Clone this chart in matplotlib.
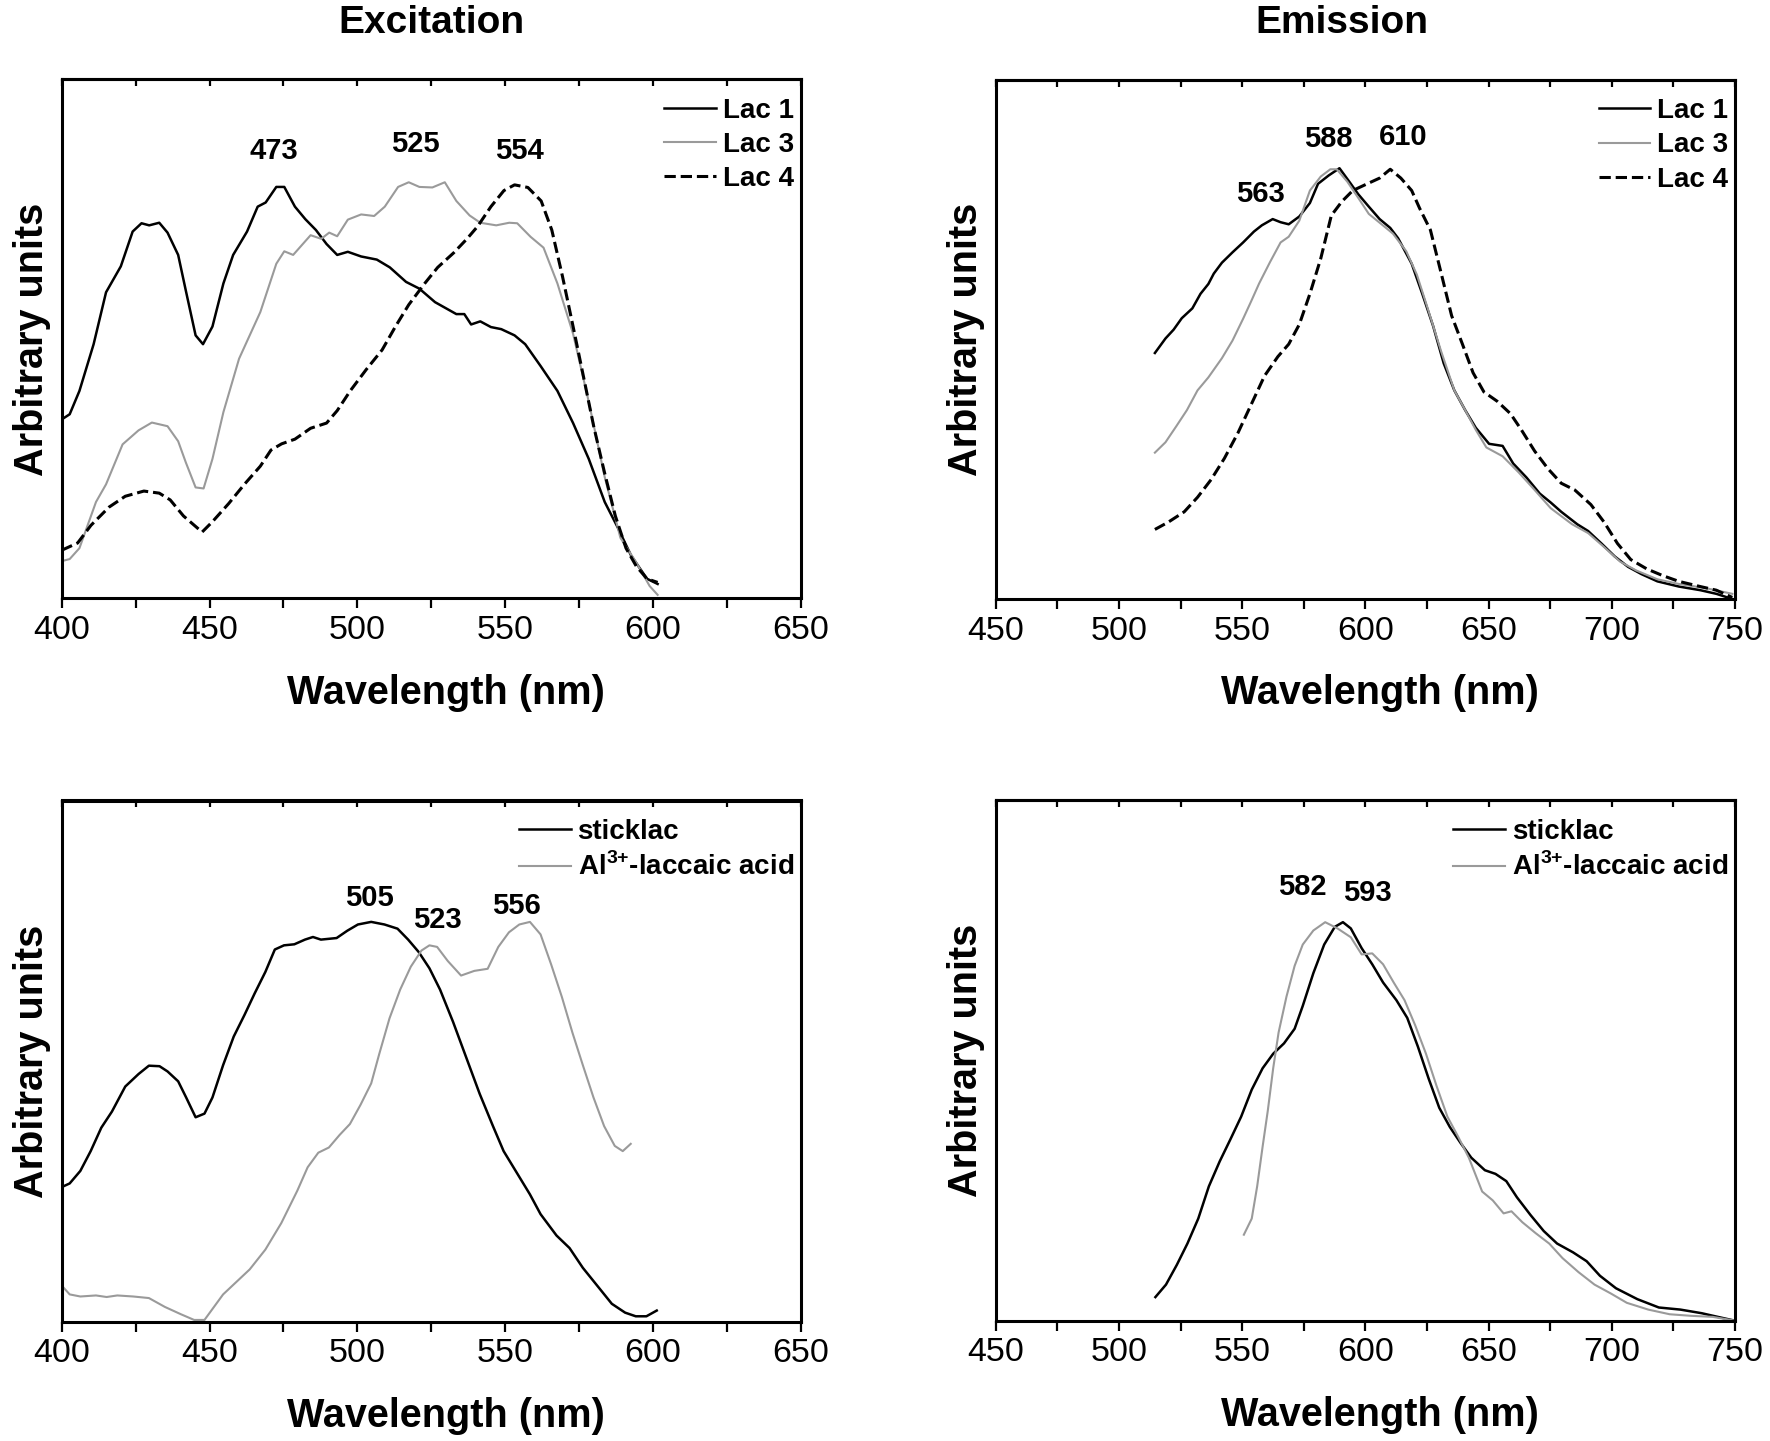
import matplotlib
matplotlib.use('Agg')
import matplotlib.pyplot as plt

plt.rcParams['font.family'] = ['Liberation Sans', 'DejaVu Sans']
plt.rcParams['mathtext.fontset'] = 'custom'
plt.rcParams['mathtext.rm'] = 'Liberation Sans:bold'
plt.rcParams['mathtext.bf'] = 'Liberation Sans:bold'

GRAY = '#9a9a9a'

# ---- excitation, Lac samples (normalised to axis height) ----
exc_lac1_x = [400, 402.7, 406, 410.8, 415, 420, 424, 427, 429.6, 433, 435.8, 439.4, 442, 445.3, 447.8,
              451, 454.7, 458, 462.7, 466.3, 469, 472.6, 475.3, 478.9, 482.4, 486, 489.6, 493.2, 496.8,
              501.3, 506.6, 511, 516.5, 521, 526.3, 533.5, 536.2, 538.5, 541.6, 545.2, 548.7, 553.2,
              556.8, 562, 567.7, 573, 578.3, 583.7, 588, 592.6, 598, 601.6]
exc_lac1_y = [0.345, 0.355, 0.40, 0.49, 0.59, 0.64, 0.707, 0.723, 0.719, 0.724, 0.705, 0.662, 0.593, 0.507, 0.49,
              0.524, 0.607, 0.662, 0.707, 0.755, 0.763, 0.793, 0.793, 0.755, 0.731, 0.71, 0.683, 0.662, 0.668,
              0.659, 0.653, 0.638, 0.61, 0.597, 0.571, 0.548, 0.548, 0.528, 0.534, 0.523, 0.519, 0.507,
              0.49, 0.448, 0.40, 0.338, 0.269, 0.186, 0.138, 0.083, 0.038, 0.028]

exc_lac3_x = [400, 402.7, 406, 411.6, 415, 420.6, 426, 430.5, 435.8, 439.4, 442, 445.3, 448, 451, 454.7,
              460, 467.2, 472.6, 475.3, 478.3, 484.2, 487.8, 490.5, 493.2, 496.8, 501.3, 505.7, 509.3,
              513.8, 517.4, 521, 525.4, 529.6, 533.5, 538, 541.6, 547, 551.4, 554.1, 558.6, 563, 567.7,
              573, 578.3, 583.7, 589, 594.4, 598.9, 601.6]
exc_lac3_y = [0.072, 0.076, 0.097, 0.186, 0.22, 0.297, 0.324, 0.339, 0.332, 0.303, 0.262, 0.214, 0.212, 0.269, 0.359,
              0.462, 0.552, 0.645, 0.669, 0.662, 0.70, 0.693, 0.705, 0.698, 0.73, 0.74, 0.737, 0.755,
              0.793, 0.802, 0.793, 0.792, 0.802, 0.766, 0.738, 0.724, 0.719, 0.724, 0.723, 0.697, 0.676, 0.607,
              0.51, 0.379, 0.234, 0.117, 0.069, 0.024, 0.007]

exc_lac4_x = [400, 405.4, 409.9, 416, 421.5, 427.8, 433, 436.7, 441.2, 447.5, 451, 456.5, 461.8, 467.2,
              470.8, 474.4, 478.9, 484.2, 489.6, 493.2, 497.6, 503, 508.4, 512.9, 517.4, 522.8, 527.2,
              532.6, 537.1, 540.7, 545.2, 549.6, 553.2, 557.7, 562.2, 565.8, 569.4, 573, 576.5, 580,
              583.7, 587.3, 590.9, 594.4, 598, 601.6]
exc_lac4_y = [0.093, 0.107, 0.141, 0.176, 0.197, 0.207, 0.203, 0.19, 0.159, 0.128, 0.148, 0.183, 0.22, 0.255,
              0.286, 0.298, 0.307, 0.328, 0.338, 0.362, 0.40, 0.441, 0.479, 0.524, 0.566, 0.607, 0.638,
              0.666, 0.693, 0.717, 0.755, 0.786, 0.797, 0.792, 0.766, 0.71, 0.621, 0.524, 0.428, 0.331,
              0.241, 0.159, 0.097, 0.062, 0.038, 0.031]

# ---- emission, Lac samples ----
em_lac1_x = [514.6, 518.9, 522.2, 525.5, 529.8, 533.1, 536.3, 538.5, 541.8, 546.1, 550.4, 554.8, 558,
             562.4, 565.6, 568.9, 573.2, 577.5, 580.8, 585.1, 589.5, 593.8, 597.1, 601.4, 605.8, 610.1,
             613.3, 618.8, 623.1, 627.5, 631.8, 636.1, 640.5, 644.8, 650.2, 655.7, 660, 665.4, 670.8,
             675.2, 679.5, 686, 690.4, 695.8, 701.2, 706.6, 712, 718.5, 727.2, 735.9, 742.4, 748.9]
em_lac1_y = [0.474, 0.502, 0.519, 0.541, 0.56, 0.588, 0.607, 0.627, 0.648, 0.668, 0.687, 0.708, 0.72,
             0.732, 0.726, 0.722, 0.737, 0.763, 0.80, 0.816, 0.83, 0.802, 0.78, 0.756, 0.732, 0.715,
             0.695, 0.646, 0.588, 0.526, 0.454, 0.402, 0.364, 0.33, 0.299, 0.295, 0.261, 0.234, 0.203,
             0.186, 0.168, 0.144, 0.131, 0.107, 0.082, 0.062, 0.048, 0.034, 0.024, 0.017, 0.01, 0.0]

em_lac3_x = [514.6, 518.9, 523.3, 527.6, 531.9, 536.3, 541.8, 546.1, 550.4, 553.7, 556.9, 561.3, 565.6,
             568.9, 573.2, 577.5, 581.9, 585.8, 588.4, 592.7, 597.1, 601.4, 605.8, 611.2, 616.6, 620.9,
             625.3, 630.7, 636.1, 640.5, 644.8, 649.1, 655.7, 662.2, 668.7, 675.2, 683.9, 690.4, 696.9,
             703.4, 709.9, 718.5, 727.2, 738, 748.9]
em_lac3_y = [0.282, 0.302, 0.333, 0.364, 0.402, 0.427, 0.464, 0.498, 0.54, 0.574, 0.608, 0.649, 0.687,
             0.698, 0.729, 0.787, 0.814, 0.828, 0.828, 0.804, 0.773, 0.742, 0.725, 0.704, 0.67, 0.625,
             0.56, 0.478, 0.402, 0.364, 0.326, 0.292, 0.275, 0.244, 0.21, 0.175, 0.144, 0.127, 0.10,
             0.072, 0.055, 0.038, 0.029, 0.021, 0.01]

em_lac4_x = [514.6, 520, 526.5, 531.9, 537.4, 542.8, 548.3, 553.7, 559.1, 564.5, 568.9, 573.2, 577.5,
             581.9, 586.2, 590.5, 594.9, 600.3, 605.8, 610.1, 614.4, 618.8, 622, 626.4, 630.7, 635,
             639.4, 643.7, 648.1, 653.5, 658.9, 663.3, 668.7, 674.1, 679.5, 685, 691.5, 696.9, 702.3,
             707.7, 714.2, 720.7, 727.2, 735.9, 742.4, 748.9]
em_lac4_y = [0.134, 0.148, 0.168, 0.196, 0.23, 0.271, 0.32, 0.375, 0.43, 0.467, 0.491, 0.529, 0.588,
             0.656, 0.739, 0.766, 0.787, 0.799, 0.811, 0.828, 0.811, 0.787, 0.753, 0.711, 0.629, 0.546,
             0.491, 0.436, 0.399, 0.381, 0.357, 0.326, 0.285, 0.251, 0.223, 0.21, 0.182, 0.148, 0.107,
             0.076, 0.058, 0.045, 0.034, 0.024, 0.017, 0.003]

# ---- excitation, sticklac vs Al3+-laccaic acid ----
exc_stick_x = [400, 402.7, 406.3, 409.8, 413.4, 417, 421.5, 426, 429.5, 433.1, 435.8, 439.4, 442.1, 445.3,
               448.3, 451, 454.6, 458.2, 461.8, 465.3, 468.9, 472.1, 475.2, 478.7, 482.3, 485, 487.7,
               493, 496.6, 500.2, 504.7, 509.2, 513.6, 517.2, 520.8, 524.4, 528, 532.4, 536.9, 541.4,
               545.9, 549.5, 553.9, 558.4, 562, 567.4, 571.8, 576.3, 581.7, 586.1, 590.6, 594.2, 597.8, 601.3]
exc_stick_y = [0.258, 0.265, 0.289, 0.327, 0.372, 0.403, 0.451, 0.475, 0.491, 0.49, 0.48, 0.461, 0.43, 0.392,
               0.399, 0.43, 0.492, 0.547, 0.588, 0.63, 0.671, 0.714, 0.722, 0.724, 0.733, 0.738, 0.733,
               0.736, 0.75, 0.762, 0.767, 0.762, 0.754, 0.733, 0.709, 0.678, 0.637, 0.575, 0.506, 0.437,
               0.375, 0.327, 0.286, 0.244, 0.206, 0.165, 0.141, 0.103, 0.065, 0.034, 0.017, 0.01, 0.01, 0.021]

exc_al_x = [400, 402.7, 406.3, 411.6, 415.2, 418.8, 424.2, 429.5, 434.9, 440.3, 444.8, 448.3, 451.9, 454.6,
            459.1, 463.6, 468.9, 474.3, 479.7, 483.2, 486.8, 490.4, 494, 497.5, 501.1, 504.7, 507.4,
            510.9, 514.5, 518.1, 521.7, 524.4, 527, 530.6, 535.1, 539.6, 544.1, 547.7, 551.3, 554.8,
            558.4, 562, 565.6, 569.2, 572.8, 576.3, 579.9, 583.5, 587.1, 589.8, 592.5]
exc_al_y = [0.069, 0.052, 0.048, 0.05, 0.047, 0.05, 0.048, 0.045, 0.028, 0.014, 0.003, 0.003, 0.031, 0.052,
            0.076, 0.10, 0.138, 0.189, 0.251, 0.296, 0.324, 0.334, 0.358, 0.379, 0.416, 0.457, 0.513,
            0.582, 0.637, 0.681, 0.712, 0.722, 0.719, 0.692, 0.664, 0.673, 0.677, 0.719, 0.747, 0.762,
            0.767, 0.743, 0.685, 0.623, 0.554, 0.492, 0.43, 0.375, 0.337, 0.327, 0.341]

# ---- emission, sticklac vs Al3+-laccaic acid ----
em_stick_x = [514.8, 519.1, 523.5, 527.8, 532.2, 536.5, 540.9, 545.2, 549.6, 553.9, 558.3, 562.6, 567,
              571.3, 574.6, 578.9, 583.3, 587.6, 590.9, 594.1, 598.5, 602.8, 607.2, 612.6, 617, 621.3,
              625.7, 630, 634.3, 638.7, 643, 648.5, 652.8, 657.2, 661.5, 667, 672.4, 677.8, 684.3, 689.8,
              695.2, 701.7, 710.4, 719.1, 727.8, 736.5, 743, 749.6]
em_stick_y = [0.045, 0.069, 0.107, 0.148, 0.196, 0.258, 0.306, 0.348, 0.392, 0.444, 0.485, 0.513, 0.533,
              0.561, 0.605, 0.668, 0.723, 0.757, 0.766, 0.754, 0.716, 0.685, 0.65, 0.616, 0.582, 0.527,
              0.465, 0.409, 0.372, 0.341, 0.313, 0.289, 0.282, 0.268, 0.237, 0.203, 0.172, 0.148, 0.131, 0.114,
              0.086, 0.062, 0.041, 0.025, 0.021, 0.014, 0.007, 0.0]

em_al_x = [550.7, 553.9, 556.1, 558.3, 560.4, 562.6, 564.8, 568, 571.3, 574.6, 578.9, 583.7, 588.7, 594.1,
           598.5, 602.8, 607.2, 611.5, 615.9, 620.2, 624.6, 628.9, 633.3, 637.6, 642, 647.4, 651.7, 656.1,
           659.3, 663.7, 669.1, 674.6, 680, 686.5, 693, 699.6, 706.1, 714.8, 723.5, 732.2, 740.9, 749.6]
em_al_y = [0.165, 0.196, 0.258, 0.334, 0.403, 0.485, 0.554, 0.623, 0.682, 0.723, 0.75, 0.766, 0.754, 0.737,
           0.704, 0.706, 0.685, 0.65, 0.616, 0.568, 0.513, 0.451, 0.392, 0.354, 0.313, 0.248, 0.231, 0.206,
           0.21, 0.189, 0.168, 0.148, 0.12, 0.093, 0.069, 0.052, 0.034, 0.021, 0.012, 0.009, 0.007, 0.0]

# peak labels (wavelength, height)
exc_lac_peaks = [('473', 471.7, 0.862), ('525', 519.7, 0.876), ('554', 555.0, 0.862)]
em_lac_peaks = [('563', 557.4, 0.78), ('588', 585.1, 0.887), ('610', 615.5, 0.89)]
exc_al_peaks = [('505', 504.1, 0.812), ('523', 527.0, 0.771), ('556', 553.9, 0.798)]
em_al_peaks = [('582', 574.6, 0.833), ('593', 600.7, 0.822)]

W, H = 1770, 1441
fig = plt.figure(figsize=(W / 100, H / 100), dpi=100)

ax1 = fig.add_axes([61.7 / W, 1 - 598.5 / H, 739 / W, 519 / H])
ax2 = fig.add_axes([995.7 / W, 1 - 599.0 / H, 739.3 / W, 519 / H])
ax3 = fig.add_axes([61.7 / W, 1 - 1321.5 / H, 739 / W, 521 / H])
ax4 = fig.add_axes([995.7 / W, 1 - 1320.5 / H, 739.3 / W, 520 / H])


def style(ax, xmin, xmax):
    ax.set_xlim(xmin, xmax)
    ax.set_ylim(0, 1)
    ax.set_xticks(range(xmin, xmax + 1, 50))
    ax.set_xticks(range(xmin + 25, xmax, 50), minor=True)
    ax.set_yticks([])
    for s in ax.spines.values():
        s.set_linewidth(2.2)
    ax.tick_params(axis='x', which='both', direction='out', length=7.2, width=1.6,
                   labelsize=24.5, pad=5)
    top = ax.secondary_xaxis('top')
    top.set_xticks(range(xmin, xmax + 1, 50))
    top.set_xticks(range(xmin + 25, xmax, 50), minor=True)
    top.tick_params(axis='x', which='both', direction='in', length=5, width=1.6, labeltop=False)
    top.spines['top'].set_linewidth(2.2)
    ax.set_xlabel('Wavelength (nm)', fontsize=28.5, fontweight='bold')
    ax.xaxis.set_label_coords(0.52, -0.145)
    ax.set_ylabel('Arbitrary units', fontsize=28.5, fontweight='bold', labelpad=8)


def peaks(ax, items):
    for t, x, y in items:
        ax.text(x, y, t, fontsize=21, fontweight='bold', ha='center', va='center')


leg_kw = dict(loc='upper right', bbox_to_anchor=(1.015, 1.0), frameon=False, handlelength=1.85,
              handletextpad=0.25, labelspacing=0.3, borderaxespad=0.25,
              prop={'size': 20, 'weight': 'bold'})

# Excitation - Lac
ax1.plot(exc_lac1_x, exc_lac1_y, color='black', lw=1.8, label='Lac 1')
ax1.plot(exc_lac3_x, exc_lac3_y, color=GRAY, lw=1.5, label='Lac 3')
ax1.plot(exc_lac4_x, exc_lac4_y, color='black', lw=2.2, ls='--', label='Lac 4')
style(ax1, 400, 650)
peaks(ax1, exc_lac_peaks)
ax1.legend(**leg_kw)

# Emission - Lac
ax2.plot(em_lac1_x, em_lac1_y, color='black', lw=1.8, label='Lac 1')
ax2.plot(em_lac3_x, em_lac3_y, color=GRAY, lw=1.5, label='Lac 3')
ax2.plot(em_lac4_x, em_lac4_y, color='black', lw=2.2, ls='--', label='Lac 4')
style(ax2, 450, 750)
peaks(ax2, em_lac_peaks)
ax2.legend(**leg_kw)

al_label = r'Al$^{\mathbf{3{+}}}$-laccaic acid'

# Excitation - sticklac
ax3.plot(exc_stick_x, exc_stick_y, color='black', lw=1.8, label='sticklac')
ax3.plot(exc_al_x, exc_al_y, color=GRAY, lw=1.5, label=al_label)
style(ax3, 400, 650)
peaks(ax3, exc_al_peaks)
ax3.legend(**leg_kw)

# Emission - sticklac
ax4.plot(em_stick_x, em_stick_y, color='black', lw=1.8, label='sticklac')
ax4.plot(em_al_x, em_al_y, color=GRAY, lw=1.5, label=al_label)
style(ax4, 450, 750)
peaks(ax4, em_al_peaks)
ax4.legend(**leg_kw)

fig.text(431 / W, 1 - 23 / H, 'Excitation', fontsize=28, fontweight='bold', ha='center', va='center')
fig.text(1342 / W, 1 - 23 / H, 'Emission', fontsize=28, fontweight='bold', ha='center', va='center')

fig.savefig('out.png', dpi=100)
